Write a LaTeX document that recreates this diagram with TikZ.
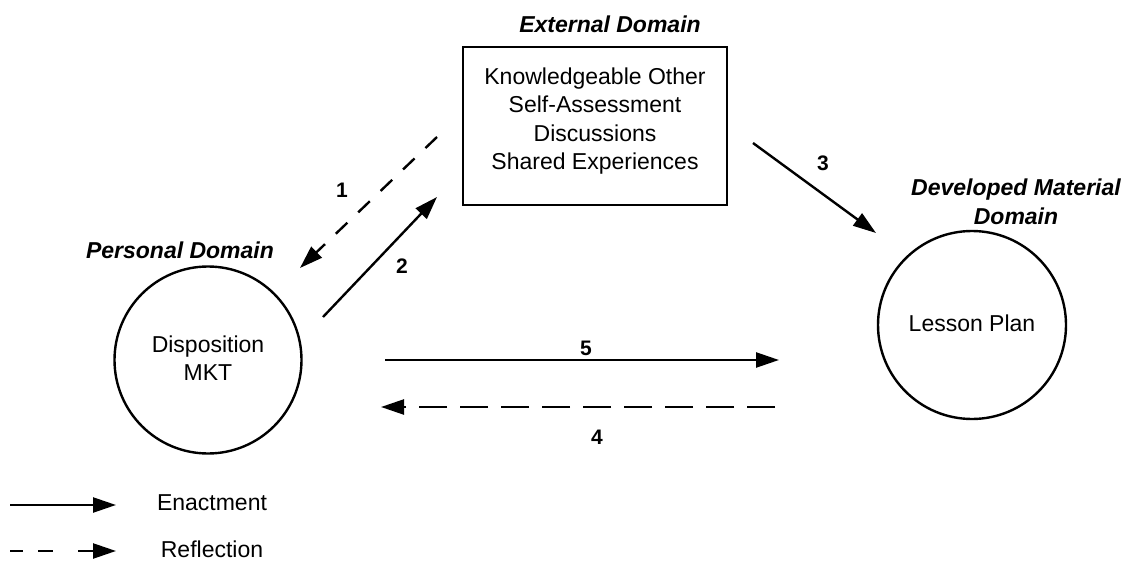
\documentclass[tikz,border=0pt]{standalone}
\usepackage{fontspec}
\setmainfont{Liberation Sans}
\usetikzlibrary{arrows.meta}
\begin{document}
\begin{tikzpicture}[x=1pt,y=-1pt,
  txt/.style={font=\fontsize{23}{28.3}\selectfont, align=center, inner sep=0pt},
  areatitle/.style={font=\fontsize{23}{29}\selectfont\bfseries\itshape, align=center, inner sep=0pt},
  num/.style={font=\fontsize{21}{24}\selectfont\bfseries, inner sep=0pt},
  lw/.style={line width=2.4pt},
  tip/.style={-{Triangle[length=23pt,width=15pt]}},
  enact/.style={lw, tip},
  reflect/.style={lw, tip, dash pattern=on 28pt off 13pt},
  shortdash/.style={lw, tip, dash pattern=on 16pt off 15pt},
  legenddash/.style={lw, tip, dash pattern=on 13pt off 15pt on 15pt off 25pt on 20pt off 0pt},
  framebox/.style={draw, lw, minimum width=264pt, minimum height=158pt, inner sep=0pt},
  ring/.style={draw, lw, circle, inner sep=0pt},
]
\useasboundingbox (0,0) rectangle (1129,564);

% domains
\node[framebox] (extbox) at (595,126) {};
\node[txt] (exttext) at (595,121) {Knowledgeable Other\\Self-Assessment\\Discussions\\Shared Experiences};
\node[areatitle] (exttitle) at (610,24) {External Domain};

\node[ring, minimum size=187pt] (pers) at (208,360) {};
\node[txt] (perstext) at (208,358) {Disposition\\MKT};
\node[areatitle] (perstitle) at (180,250) {Personal Domain};

\node[ring, minimum size=188pt] (lesson) at (972,325) {};
\node[txt] (lessontext) at (972,323) {Lesson Plan};
\node[areatitle] (lessontitle) at (1016,202) {Developed Material\\Domain};

% connector end points
\coordinate (a1s) at (437,137);
\coordinate (a1e) at (300,268);
\coordinate (a2s) at (323,317);
\coordinate (a2e) at (437,197);
\coordinate (a3s) at (753,143);
\coordinate (a3e) at (876,233);
\coordinate (a5s) at (385,360);
\coordinate (a5e) at (779,360);
\coordinate (a4s) at (775,407);
\coordinate (a4e) at (381,407);

\draw[shortdash] (a1s) -- (a1e);
\draw[enact] (a2s) -- (a2e);
\draw[enact] (a3s) -- (a3e);
\draw[enact] (a5s) -- (a5e);
\draw[reflect] (a4s) -- (a4e);

\node[num] (n1) at (342,190) {1};
\node[num] (n2) at (402,266) {2};
\node[num] (n3) at (823,163) {3};
\node[num] (n5) at (586,348) {5};
\node[num] (n4) at (597,437) {4};

% legend
\coordinate (l1s) at (10,505);
\coordinate (l1e) at (116,505);
\coordinate (l2s) at (10,551);
\coordinate (l2e) at (116,551);
\draw[enact] (l1s) -- (l1e);
\draw[legenddash] (l2s) -- (l2e);
\node[txt] (lenact) at (212,503) {Enactment};
\node[txt] (lreflect) at (212,549) {Reflection};
\end{tikzpicture}
\end{document}
